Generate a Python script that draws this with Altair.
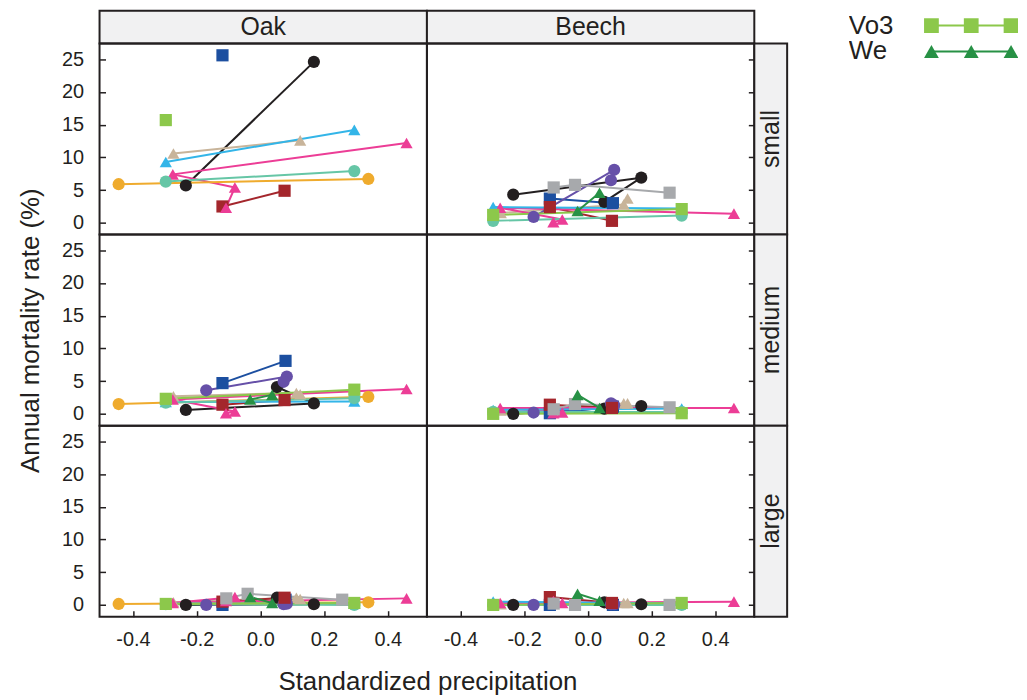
import altair as alt
import pandas as pd

FONT = "Liberation Sans"
TXT = "#231f20"

SITES = ["Ei", "Ha", "Ka", "Le", "Lu", "Mi", "Ro", "Sc", "Vo1", "Vo2", "Vo3", "We"]
COLORS = ["#231f20", "#1c4fa0", "#c8b49a", "#6650a8", "#a4262c", "#ec3d96",
          "#efab2d", "#a7a9ac", "#33b5e8", "#66c6a6", "#8cc84b", "#279145"]
SHAPES = ["circle", "square", "triangle-up"] * 4

# standardized precipitation of each census interval, per site (chronological)
PRECIP = [
    [-0.234, 0.168, 0.052],
    [-0.119, 0.079],
    [-0.273, 0.113, 0.125],
    [-0.170, 0.083, 0.073],
    [-0.119, 0.076],
    [0.459, -0.275, -0.080, -0.108],
    [-0.445, 0.339],
    [-0.107, -0.040, 0.257],
    [-0.297, 0.295],
    [-0.297, 0.295],
    [-0.297, 0.295],
    [-0.032, 0.037],
]

OAK_SMALL = [[5.7, 24.6, None], [25.6, None], [10.6, None, 12.6], [None, None, None],
             [2.5, 4.9], [12.2, 7.4, 5.4, 2.3], [5.9, 6.7], [None, None, None],
             [9.3, 14.2], [6.3, 7.9], [15.7, None], [None, None]]
OAK_MEDIUM = [[0.6, 1.6, 4.1], [4.7, 8.1], [2.7, 3.2, 3.0], [3.6, 5.7, 4.9],
              [1.4, 2.1], [3.8, 2.2, 0.35, 0.1], [1.5, 2.6], [None, None, None],
              [1.8, 1.9], [1.7, 2.4], [2.3, 3.7], [2.2, 2.9]]
OAK_LARGE = [[0.0, 0.1, 1.1], [0.0, 0.8], [0.4, 1.1, 0.9], [0.0, 0.2, 0.1],
             [0.5, 1.1], [1.0, 0.3, 1.2, 0.6], [0.15, 0.4], [1.0, 1.7, 0.8],
             [0.2, 0.2], [0.1, 0.0], [0.15, 0.3], [1.2, 0.3]]
BEECH_SMALL = [[4.3, 6.9, 3.2], [3.7, 3.0], [1.5, 2.8, 3.7], [0.9, 8.1, 6.5],
               [2.4, 0.3], [1.4, 2.3, 0.5, 0.1], [None, None], [5.4, 5.8, 4.6],
               [2.4, 2.2], [0.3, 1.1], [1.2, 2.1], [1.8, 4.6]]
BEECH_MEDIUM = [[0.0, 1.2, 0.8], [0.1, 1.1], [0.5, 1.6, 1.6], [0.2, 1.3, 1.6],
                [1.4, 0.9], [0.9, 0.9, 0.2, 0.1], [None, None], [0.7, 1.5, 1.0],
                [0.6, 0.8], [0.3, 0.3], [0.0, 0.1], [2.9, 0.9]]
BEECH_LARGE = [[0.0, 0.1, 0.4], [0.0, 0.0], [0.1, 0.3, 0.3], [0.0, 0.1, 0.1],
               [1.2, 0.3], [0.5, 0.3, 0.3, 0.6], [None, None], [0.2, 0.0, 0.0],
               [0.5, 0.2], [0.0, 0.0], [0.0, 0.3], [1.7, 0.65]]

SPECIES = ["Oak", "Beech"]
SIZES = ["small", "medium", "large"]
XTICKS = [-0.4, -0.2, 0.0, 0.2, 0.4]
YTICKS = [0, 5, 10, 15, 20, 25]
XDOM = [-0.505, 0.523]
YDOM = [-1.8, 27.4]

PW, PH = 329, 192
SW, SH = 33, 33

color_enc = alt.Color("site:N", scale=alt.Scale(domain=SITES, range=COLORS), legend=None)
shape_enc = alt.Shape("site:N", scale=alt.Scale(domain=SITES, range=SHAPES), legend=None)


def panel_df(values):
    rows = []
    for site, xs, ys in zip(SITES, PRECIP, values):
        for t, (x, y) in enumerate(zip(xs, ys)):
            if y is not None:
                rows.append({"site": site, "t": t, "x": x, "y": y})
    return pd.DataFrame(rows)


def panel(values, left, bottom, xtitle=False):
    if bottom:
        xkw = dict(values=XTICKS, tickSize=6, offset=-6, domain=False, grid=False,
                   labelPadding=13,
                   labelExpr="(datum.value < 0 ? '-' : '') + format(abs(datum.value), '.1f')")
        if xtitle:
            xaxis = alt.Axis(title="Standardized precipitation", titleX=329.5,
                             titlePadding=19, **xkw)
        else:
            xaxis = alt.Axis(title=None, **xkw)
    else:
        xaxis = None
    if left:
        ytitle = "Annual mortality rate (%)" if values is OAK_MEDIUM else None
        yaxis = alt.Axis(values=YTICKS, tickSize=6, offset=-6, domain=False, grid=False,
                         labelPadding=16, title=ytitle, titlePadding=18)
    else:
        yaxis = alt.Axis(orient="right", values=YTICKS, labels=False, tickSize=6,
                         offset=-6, domain=False, grid=False, title=None)
    xenc = alt.X("x:Q", scale=alt.Scale(domain=XDOM, nice=False, zero=False), axis=xaxis)
    yenc = alt.Y("y:Q", scale=alt.Scale(domain=YDOM, nice=False, zero=False), axis=yaxis)
    base = alt.Chart(panel_df(values))
    lines = base.mark_line(strokeWidth=2).encode(
        x=xenc, y=yenc, color=color_enc, detail="site:N", order=alt.Order("t:Q"))
    pts = base.mark_point(filled=True, opacity=1, size=150).encode(
        x=xenc, y=yenc, color=color_enc, shape=shape_enc)
    return alt.layer(lines, pts).properties(width=PW, height=PH)


def col_strip(label):
    return alt.Chart(pd.DataFrame({"label": [label]})).mark_text(
        fontSize=25, font=FONT, color=TXT, baseline="middle", align="center"
    ).encode(x=alt.value(PW / 2), y=alt.value(SH / 2), text="label:N").properties(
        width=PW, height=SH, view=alt.ViewBackground(fill="#f1f1f2"))


def row_strip(label):
    return alt.Chart(pd.DataFrame({"label": [label]})).mark_text(
        fontSize=25, font=FONT, color=TXT, baseline="middle", align="center", angle=270
    ).encode(x=alt.value(SW / 2), y=alt.value(PH / 2), text="label:N").properties(
        width=SW, height=PH, view=alt.ViewBackground(fill="#f1f1f2"))


empty = alt.Chart(pd.DataFrame({"a": [0]})).mark_point(opacity=0, size=1).encode(
    x=alt.value(SW / 2), y=alt.value(SH / 2)).properties(
    width=SW, height=SH, view=alt.ViewBackground(stroke="transparent"))

grid = alt.concat(
    col_strip("Oak"), col_strip("Beech"), empty,
    panel(OAK_SMALL, True, False), panel(BEECH_SMALL, False, False), row_strip("small"),
    panel(OAK_MEDIUM, True, False), panel(BEECH_MEDIUM, False, False), row_strip("medium"),
    panel(OAK_LARGE, True, True, xtitle=True), panel(BEECH_LARGE, False, True), row_strip("large"),
    columns=3, spacing=0, bounds="flush",
)

# key (drawn from the same site arrays); the top of the key lies above the page
leg_rows, lab_rows = [], []
for i, site in enumerate(SITES):
    lab_rows.append({"site": site, "idx": i})
    for p in range(3):
        leg_rows.append({"site": site, "idx": i, "pos": p})
leg_df = pd.DataFrame(leg_rows)
lab_df = pd.DataFrame(lab_rows)
FIRST_SHOWN = 10

lx = alt.X("pos:Q", scale=alt.Scale(domain=[0, 2], range=[83, 163]), axis=None)
ly = alt.Y("idx:Q", scale=alt.Scale(domain=[0, 11], range=[-245, 41]), axis=None)
leg_lines = alt.Chart(leg_df).transform_filter(alt.datum.idx >= FIRST_SHOWN).mark_line(
    strokeWidth=2, clip=True).encode(x=lx, y=ly, color=color_enc, detail="site:N")
leg_pts = alt.Chart(leg_df).transform_filter(alt.datum.idx >= FIRST_SHOWN).mark_point(
    filled=True, opacity=1, size=220, clip=True).encode(
    x=lx, y=ly, color=color_enc, shape=shape_enc)
leg_txt = alt.Chart(lab_df).transform_filter(alt.datum.idx >= FIRST_SHOWN).mark_text(
    align="left", baseline="middle", fontSize=26, font=FONT, color=TXT, clip=True
).encode(x=alt.value(0), y=ly, text="site:N")
legend = alt.layer(leg_lines, leg_pts, leg_txt).properties(
    width=170, height=60, view=alt.ViewBackground(stroke="transparent"))

chart = alt.hconcat(grid, legend, spacing=60).properties(
    padding={"left": 8, "top": 0, "right": 0, "bottom": 0}
).configure_view(
    stroke=TXT, strokeWidth=2
).configure_axis(
    labelFont=FONT, titleFont=FONT, labelColor=TXT, titleColor=TXT, tickColor=TXT,
    tickWidth=1.5, labelFontSize=20, titleFontSize=26, titleFontWeight="normal",
)

chart.save("out.html", embed_options={"renderer": "svg", "actions": False})
